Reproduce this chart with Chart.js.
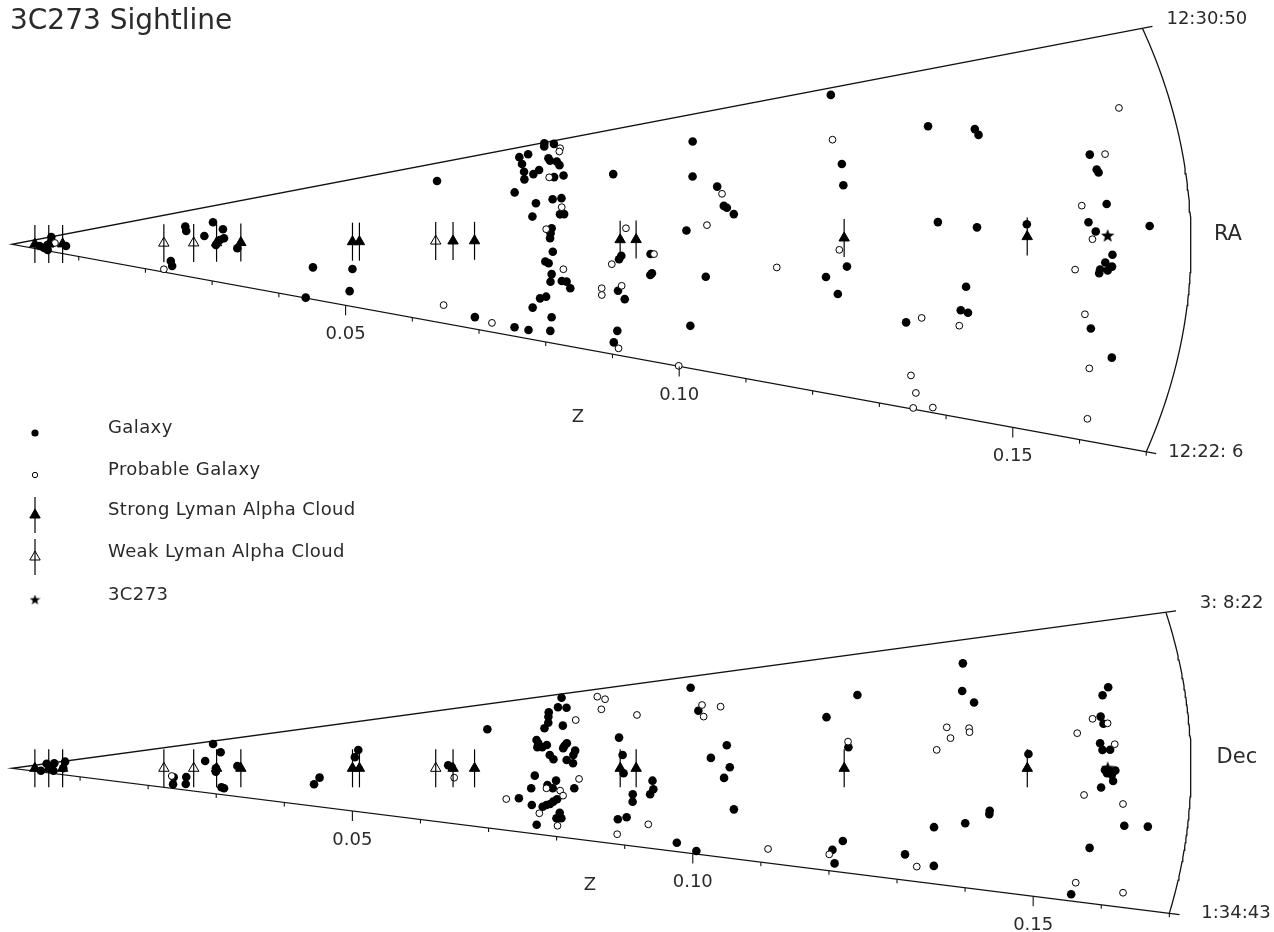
<!DOCTYPE html>
<html>
<head>
<meta charset="utf-8">
<title>3C273 Sightline</title>
<script src="https://cdn.jsdelivr.net/npm/chart.js@4.4.1/dist/chart.umd.min.js"></script>
<style>
  html, body { margin: 0; padding: 0; background: #fff; }
  canvas { display: block; }
</style>
</head>
<body>
<canvas id="wedge" width="1274" height="932"></canvas>
<script>
// RA in seconds after 12h20m00s, Dec in arcmin, redshift z
const raRange = [126, 650];        // 12:22: 6 .. 12:30:50
const decRange = [94.72, 188.37];  // 1:34:43 .. 3: 8:22
const raLabels = ['12:30:50', '12:22: 6'];
const decLabels = ['3: 8:22', '1:34:43'];
const zTicks = [0.05, 0.10, 0.15];
const zMax = 0.17;

const qso = { z: 0.158, ra: 393, dec: 139.72 };

const strongClouds = [0.0033, 0.0053, 0.0073, 0.0295, 0.0330, 0.0491, 0.0501, 0.0636, 0.0667, 0.0877, 0.0900, 0.1200, 0.1464];
const weakClouds = [0.0219, 0.0262, 0.0611];

// RA slice: galaxies
const galRaZ = [0.0040,0.0047,0.0051,0.0059,0.0058,0.0053,0.0078,0.0253,0.0253,0.0278,0.0294,0.0306,0.0306,0.0300,0.0294,0.0325,0.0232,0.0236,0.0437,0.0440,
  0.0629,0.0494,0.0498,0.0687,0.0748,0.0769,0.0800,0.0795,0.0764,0.0771,0.0779,0.0811,0.0804,0.0797,0.0781,0.0781,0.0770,0.0775,0.0780,0.0776,
  0.0777,0.0779,0.0753,0.0761,0.0786,0.0799,0.0793,0.0799,0.0734,0.0753,0.0756,0.0768,0.0778,0.0796,0.0810,0.0757,0.0757,0.0771,0.0797,0.0798,
  0.0807,0.0809,0.0800,0.0798,0.0813,0.0881,0.0876,0.0879,0.0880,0.0892,0.0894,0.0895,0.1227,0.1210,0.1206,0.1008,0.0993,0.1025,0.1030,0.1034,
  0.1043,0.0973,0.0921,0.0923,0.0925,0.1003,0.1176,0.1205,0.1196,0.0995,0.1347,0.1412,0.1415,0.1567,0.1573,0.1575,0.1581,0.1336,0.1392,0.1464,
  0.1553,0.1563,0.1641,0.1587,0.1577,0.1587,0.1570,0.1581,0.1569,0.1379,0.1376,0.1387,0.1301,0.1567,0.1606];
const galRaRA = [297,220,354,640,428,161,338,526,489,443,536,482,422,411,378,358,235,192,275,128,
  591,281,188,162,151,150,157,193,212,239,245,272,288,289,285,305,337,333,363,398,
  411,424,457,492,499,500,459,459,527,560,581,571,580,556,557,603,623,627,607,600,
  595,585,648,640,642,546,348,356,275,257,182,154,638,518,482,594,522,497,458,454,
  441,411,361,315,319,317,326,345,298,214,563,550,541,499,479,475,434,416,407,410,
  411,399,405,369,359,354,350,349,345,320,285,282,260,273,238];

// RA slice: probable galaxies
const probRaZ = [0.0062,0.0226,0.0637,0.0714,0.0797,0.0771,0.0797,0.0789,0.0819,0.0816,0.0886,0.0866,0.0856,0.0858,0.0884,0.0905,0.1206,0.1030,0.1003,
  0.0926,0.1104,0.1193,0.0999,0.1625,0.1589,0.1545,0.1558,0.1534,0.1378,0.1322,0.1555,0.1578,0.1329,0.1345,0.1350,0.1377,0.1599];
const probRaRA = [425,152,185,153,319,422,477,557,628,620,419,336,278,262,287,142,561,482,421,
  361,340,373,127,555,498,433,389,349,262,269,291,221,178,152,128,134,155];

// Dec slice: galaxies
const galDecZ = [0.0042,0.0051,0.0054,0.0060,0.0062,0.0078,0.0074,0.0234,0.0235,0.0252,0.0253,0.0279,0.0295,0.0303,0.0294,0.0294,0.0305,0.0309,0.0325,0.0444,
  0.0437,0.0501,0.0495,0.0629,0.0634,0.0691,0.0734,0.0808,0.0799,0.0811,0.0784,0.0782,0.0780,0.0773,0.0800,0.0759,0.0761,0.0759,0.0766,0.0773,
  0.0776,0.0781,0.0798,0.0802,0.0796,0.0813,0.0810,0.0800,0.0809,0.0878,0.0881,0.0882,0.0754,0.0750,0.0773,0.0785,0.0781,0.0812,0.0754,0.0770,
  0.0775,0.0780,0.0784,0.0789,0.0796,0.0793,0.0800,0.0767,0.0924,0.0926,0.0922,0.0897,0.0898,0.0881,0.0893,0.0973,0.0995,0.0998,0.1032,0.1008,
  0.1035,0.1027,0.1045,0.1004,0.1180,0.1230,0.1207,0.1209,0.1197,0.1205,0.1336,0.1302,0.1347,0.1391,0.1381,0.1395,0.1466,0.1413,0.1413,0.1380,
  0.1591,0.1581,0.1574,0.1577,0.1570,0.1573,0.1584,0.1576,0.1583,0.1591,0.1579,0.1586,0.1588,0.1571,0.1609,0.1643,0.1564,0.1553];
const galDecDec = [109.7,187.0,139.8,118.9,182.5,184.5,139.8,119.7,104.1,121.8,107.3,153.3,183.1,167.3,139.8,133.8,107.2,105.8,143.4,128.8,
  120.7,158.7,151.3,142.2,140.6,169.3,118.5,185.9,179.9,179.0,177.2,174.3,170.3,166.8,167.6,159.1,156.8,154.1,154.0,155.4,
  148.6,145.7,154.3,156.0,152.8,151.0,148.3,145.1,143.0,157.9,147.6,136.8,134.7,125.9,128.5,131.6,126.5,127.0,114.4,113.7,
  115.1,115.9,117.6,119.3,110.6,106.8,107.1,101.1,132.8,128.0,125.1,124.7,120.4,109.5,111.1,99.5,182.4,169.9,151.3,145.1,
  140.3,134.9,119.3,96.3,162.3,170.9,148.8,108.3,104.0,98.2,116.8,105.1,101.7,179.4,169.0,164.3,144.8,124.1,122.9,119.0,
  166.3,163.8,156.8,154.4,148.0,145.8,145.8,139.2,138.7,139.0,138.1,137.6,135.6,133.4,121.2,121.3,113.2,97.0];

// Dec slice: probable galaxies
const probDecZ = [0.0231,0.0638,0.0716,0.0820,0.0859,0.0869,0.0860,0.0909,0.0818,0.0772,0.0792,0.0797,0.0767,0.0797,0.0885,0.0926,0.1005,0.1004,
  0.1031,0.1105,0.1207,0.1194,0.1323,0.1351,0.1355,0.1334,0.1383,0.1383,0.1562,0.1583,0.1538,0.1591,0.1547,0.1604,0.1555,0.1626];
const probDecDec = [122.4,132.1,117.4,170.5,183.7,181.6,175.7,170.4,133.0,126.3,125.1,121.9,109.1,101.9,100.6,108.1,172.7,166.6,
  171.0,101.4,151.2,101.9,100.7,155.5,151.3,146.9,154.8,153.3,156.2,154.5,151.6,147.6,130.8,128.2,101.1,99.5];

// layout of the two wedges (slope of the edges on the page and vertical offset)
const panels = {
  ra:  { range: raRange,  tan: [-0.2836, 0.2960], off: 0 },
  dec: { range: decRange, tan: [-0.1942, 0.2097], off: -0.117095 }
};

function angle(p, a) {
  const f = (a - p.range[0]) / (p.range[1] - p.range[0]);
  return Math.atan(p.tan[0] + f * (p.tan[1] - p.tan[0]));
}
function pos(p, z, a) {
  const phi = angle(p, a);
  return { x: z * Math.cos(phi), y: z * Math.sin(phi) + p.off };
}
function pts(p, zs, as) { return zs.map((z, i) => pos(p, z, as[i])); }
function sightline(p, zs, a) { return zs.map(z => pos(p, z, a)); }

function outline(p) {
  const out = [];
  const hi = p.range[1], lo = p.range[0];
  out.push(pos(p, zMax + 0.0015, hi));
  out.push(pos(p, 0, hi));
  out.push(pos(p, zMax + 0.0015, lo));
  out.push({ x: NaN, y: NaN });
  for (let i = 0; i <= 80; i++) {
    out.push(pos(p, zMax, lo + (hi - lo) * i / 80));
  }
  return out;
}

// star marker for 3C273
function makeStar(size) {
  const c = document.createElement('canvas');
  c.width = size; c.height = size;
  const g = c.getContext('2d');
  const R = size / 2, r = R * 0.42;
  g.beginPath();
  for (let i = 0; i < 10; i++) {
    const a = -Math.PI / 2 + i * Math.PI / 5;
    const rr = i % 2 ? r : R;
    g.lineTo(R + rr * Math.cos(a), R + rr * Math.sin(a));
  }
  g.closePath();
  g.fillStyle = '#000';
  g.fill();
  return c;
}
const starBig = makeStar(14);
const starSmall = makeStar(11);

const FONT = '"DejaVu Sans", "Open Sans", sans-serif';
const INK = '#2a2a2a';

const galStyle = { pointStyle: 'circle', pointRadius: 4.3, backgroundColor: '#000', borderColor: '#000', borderWidth: 0 };
const probStyle = { pointStyle: 'circle', pointRadius: 3.4, backgroundColor: '#fff', borderColor: '#000', borderWidth: 1 };
const lineStyle = { pointStyle: 'line', pointRotation: 90, pointRadius: 19, borderColor: '#000', borderWidth: 1.2, backgroundColor: '#000' };
const strongStyle = { pointStyle: 'triangle', pointRadius: 6, backgroundColor: '#000', borderColor: '#000', borderWidth: 1 };
const weakStyle = { pointStyle: 'triangle', pointRadius: 6, backgroundColor: 'rgba(0,0,0,0)', borderColor: '#000', borderWidth: 1 };

const datasets = [];
for (const key of ['ra', 'dec']) {
  const p = panels[key];
  const a = key === 'ra' ? qso.ra : qso.dec;
  datasets.push({ type: 'line', data: outline(p), borderColor: '#111', borderWidth: 1.3, pointRadius: 0, spanGaps: false, fill: false, order: 10 });
  if (key === 'ra') {
    datasets.push(Object.assign({ data: pts(p, galRaZ, galRaRA), order: 5 }, galStyle));
    datasets.push(Object.assign({ data: pts(p, probRaZ, probRaRA), order: 4 }, probStyle));
  } else {
    datasets.push(Object.assign({ data: pts(p, galDecZ, galDecDec), order: 5 }, galStyle));
    datasets.push(Object.assign({ data: pts(p, probDecZ, probDecDec), order: 4 }, probStyle));
  }
  datasets.push(Object.assign({ data: sightline(p, strongClouds.concat(weakClouds), a), order: 3 }, lineStyle));
  datasets.push(Object.assign({ data: sightline(p, strongClouds, a), order: 2 }, strongStyle));
  datasets.push(Object.assign({ data: sightline(p, weakClouds, a), order: 2 }, weakStyle));
  datasets.push({ data: [pos(p, qso.z, a)], pointStyle: starBig, pointRadius: 7, order: 1 });
}

const decorations = {
  id: 'decorations',
  afterDatasetsDraw(chart) {
    const ctx = chart.ctx;
    const sx = chart.scales.x, sy = chart.scales.y;
    const px = v => ({ x: sx.getPixelForValue(v.x), y: sy.getPixelForValue(v.y) });
    ctx.save();
    ctx.strokeStyle = '#111';
    ctx.lineWidth = 1.1;
    ctx.fillStyle = INK;
    ctx.textBaseline = 'middle';

    for (const key of ['ra', 'dec']) {
      const p = panels[key];
      // ticks on the lower edge every 0.01
      for (let k = 1; k <= 17; k++) {
        const z = k / 100;
        const q = px(pos(p, z, p.range[0]));
        const major = k % 5 === 0;
        ctx.beginPath();
        ctx.moveTo(q.x, q.y);
        ctx.lineTo(q.x, q.y + (major ? 10 : 4));
        ctx.stroke();
      }
      ctx.font = '18px ' + FONT;
      ctx.textAlign = 'center';
      zTicks.forEach(z => {
        const q = px(pos(p, z, p.range[0]));
        ctx.fillText(z.toFixed(2), q.x, q.y + 29);
      });
      // corner labels
      const up = px(pos(p, zMax, p.range[1]));
      const lo = px(pos(p, zMax, p.range[0]));
      const labels = key === 'ra' ? raLabels : decLabels;
      const dx = key === 'ra' ? 24 : 34;
      ctx.textAlign = 'left';
      ctx.fillText(labels[0], up.x + dx, up.y - 9);
      ctx.fillText(labels[1], lo.x + dx - 2, lo.y);
      const mid = px(pos(p, zMax, (p.range[0] + p.range[1]) / 2));
      ctx.font = '21px ' + FONT;
      ctx.textAlign = 'center';
      ctx.fillText(key === 'ra' ? 'RA' : 'Dec', mid.x + (key === 'ra' ? 37 : 46), mid.y - 5);
    }
    ctx.font = '18px ' + FONT;
    ctx.fillText('Z', 578, 417);
    ctx.fillText('Z', 590, 885);

    // title
    ctx.font = '28px ' + FONT;
    ctx.textAlign = 'left';
    ctx.fillText('3C273 Sightline', 10, 22);

    // legend
    const H = Chart.helpers;
    const items = [
      { text: 'Galaxy', y: 428, draw: (x, y) => { ctx.fillStyle = '#000'; H.drawPoint(ctx, { pointStyle: 'circle', radius: 3.6, borderWidth: 0 }, x, y); } },
      { text: 'Probable Galaxy', y: 470, draw: (x, y) => { ctx.fillStyle = '#fff'; ctx.strokeStyle = '#000'; ctx.lineWidth = 1; H.drawPoint(ctx, { pointStyle: 'circle', radius: 2.7, borderWidth: 1 }, x, y); } },
      { text: 'Strong Lyman Alpha Cloud', y: 510, draw: (x, y) => {
          ctx.strokeStyle = '#000'; ctx.lineWidth = 1.2;
          H.drawPoint(ctx, { pointStyle: 'line', rotation: 90, radius: 18, borderWidth: 1.2 }, x, y);
          ctx.fillStyle = '#000'; ctx.lineWidth = 1;
          H.drawPoint(ctx, { pointStyle: 'triangle', radius: 6, borderWidth: 1 }, x, y); } },
      { text: 'Weak Lyman Alpha Cloud', y: 552, draw: (x, y) => {
          ctx.strokeStyle = '#000'; ctx.lineWidth = 1.2;
          H.drawPoint(ctx, { pointStyle: 'line', rotation: 90, radius: 18, borderWidth: 1.2 }, x, y);
          ctx.fillStyle = 'rgba(0,0,0,0)'; ctx.lineWidth = 1;
          H.drawPoint(ctx, { pointStyle: 'triangle', radius: 6, borderWidth: 1 }, x, y); } },
      { text: '3C273', y: 595, draw: (x, y) => { H.drawPoint(ctx, { pointStyle: starSmall, radius: 5 }, x, y); } }
    ];
    items.forEach(it => {
      ctx.save();
      it.draw(35, it.y + 5);
      ctx.restore();
      ctx.fillStyle = INK;
      ctx.font = '18px ' + FONT;
      ctx.letterSpacing = '0.4px';
      ctx.textAlign = 'left';
      ctx.fillText(it.text, 108, it.y);
      ctx.letterSpacing = '0px';
    });
    ctx.restore();
  }
};

new Chart(document.getElementById('wedge'), {
  type: 'scatter',
  data: { datasets: datasets },
  options: {
    responsive: false,
    devicePixelRatio: 1,
    animation: false,
    layout: { autoPadding: false, padding: 0 },
    plugins: { legend: { display: false }, tooltip: { enabled: false } },
    scales: {
      x: { type: 'linear', display: false, min: -0.00173, max: 0.181975 },
      y: { type: 'linear', display: false, min: -0.15368, max: 0.054592 }
    }
  },
  plugins: [decorations]
});
</script>
</body>
</html>
